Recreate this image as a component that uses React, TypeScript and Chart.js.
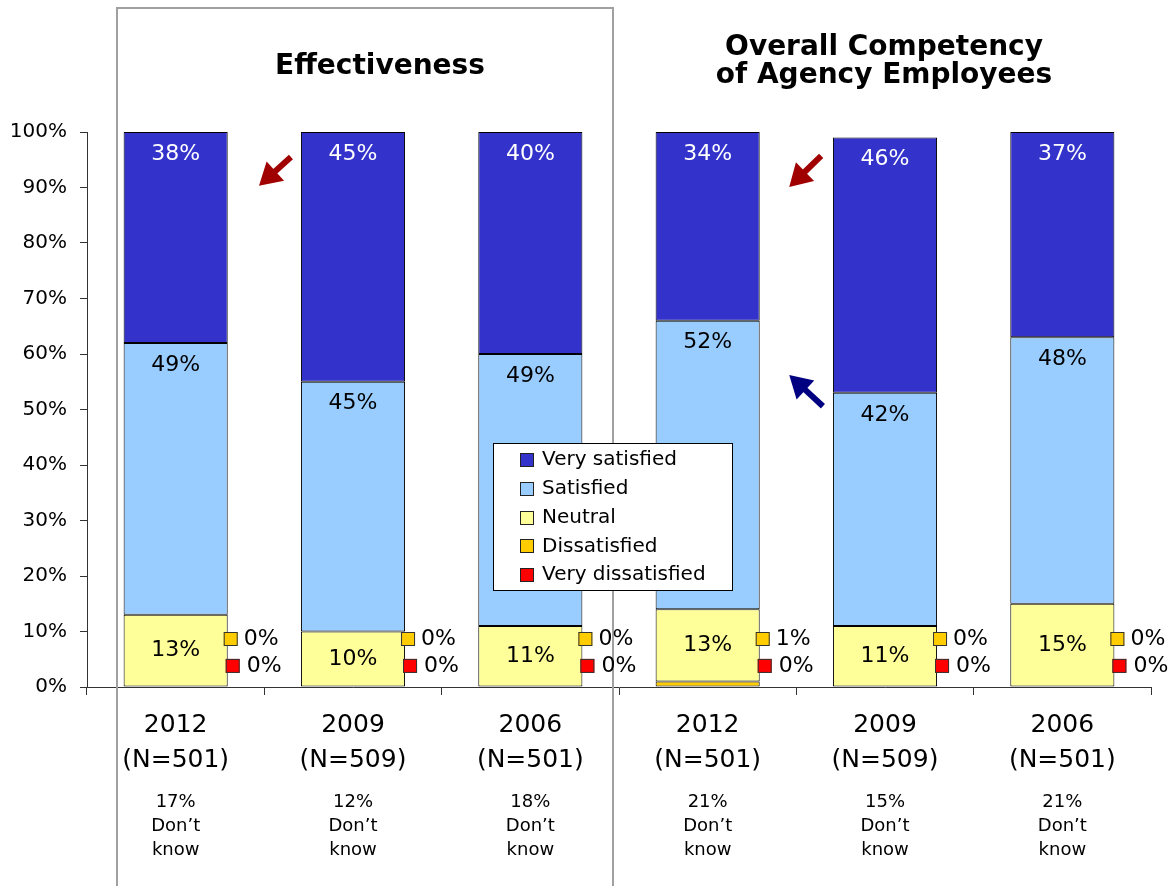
import React, { useEffect, useRef } from 'react';
import { Chart, registerables } from 'chart.js';

Chart.register(...registerables);

// ---- Data ----
const years = ['2012', '2009', '2006', '2012', '2009', '2006'];
const sampleSizes = ['(N=501)', '(N=509)', '(N=501)', '(N=501)', '(N=509)', '(N=501)'];
const dontKnow = ['17%', '12%', '18%', '21%', '15%', '21%'];

const veryDissatisfied = [0, 0, 0, 0, 0, 0];
const dissatisfied = [0, 0, 0, 1, 0, 0];
const neutral = [13, 10, 11, 13, 11, 15];
const satisfied = [49, 45, 49, 52, 42, 48];
const verySatisfied = [38, 45, 40, 34, 46, 37];

const seriesNames = ['Very dissatisfied', 'Dissatisfied', 'Neutral', 'Satisfied', 'Very satisfied'];
const seriesColors = ['#FF0000', '#FFCC00', '#FFFF99', '#99CCFF', '#3333CC'];

const panelTitleLeft = ['Effectiveness'];
const panelTitleRight = ['Overall Competency', 'of Agency Employees'];

// annotation arrows in (category index, percent) coordinates: tail -> tip
const arrowSpecs = [
  { from: [0.65, 95.5], to: [0.47, 90.3], color: '#A00000' },
  { from: [3.64, 95.7], to: [3.46, 90.1], color: '#A00000' },
  { from: [3.65, 50.6], to: [3.46, 56.2], color: '#000080' },
];

const FONT = '"DejaVu Sans", Verdana, sans-serif';

function drawArrow(ctx: CanvasRenderingContext2D, x1: number, y1: number, x2: number, y2: number, color: string) {
  const ang = Math.atan2(y2 - y1, x2 - x1);
  const headLen = 22;
  const headW = 13;
  const bx = x2 - headLen * Math.cos(ang);
  const by = y2 - headLen * Math.sin(ang);
  ctx.save();
  ctx.strokeStyle = color;
  ctx.fillStyle = color;
  ctx.lineWidth = 6;
  ctx.lineCap = 'butt';
  ctx.beginPath();
  ctx.moveTo(x1, y1);
  ctx.lineTo(bx + 2 * Math.cos(ang), by + 2 * Math.sin(ang));
  ctx.stroke();
  const px = -Math.sin(ang);
  const py = Math.cos(ang);
  ctx.beginPath();
  ctx.moveTo(x2, y2);
  ctx.lineTo(bx + px * headW, by + py * headW);
  ctx.lineTo(bx - px * headW, by - py * headW);
  ctx.closePath();
  ctx.fill();
  ctx.restore();
}

const decorPlugin = {
  id: 'decor',
  beforeDatasetsDraw(chart: any) {
    const ctx = chart.ctx as CanvasRenderingContext2D;
    // panel frame
    ctx.save();
    ctx.strokeStyle = '#A0A0A0';
    ctx.lineWidth = 2;
    ctx.strokeRect(117, 8, 496, 900);
    ctx.restore();
    // titles
    ctx.save();
    ctx.fillStyle = '#000';
    ctx.font = `bold 28px ${FONT}`;
    ctx.textAlign = 'center';
    ctx.textBaseline = 'alphabetic';
    ctx.fillText(panelTitleLeft[0], 380, 74);
    ctx.fillText(panelTitleRight[0], 884, 55);
    ctx.fillText(panelTitleRight[1], 884, 83);
    ctx.restore();
  },
  afterDatasetsDraw(chart: any) {
    const ctx = chart.ctx as CanvasRenderingContext2D;
    const ys = chart.scales.y;
    ctx.save();
    ctx.font = `22px ${FONT}`;
    ctx.textAlign = 'center';
    ctx.textBaseline = 'middle';
    // very satisfied (4), satisfied (3): near top; neutral (2): centred
    [2, 3, 4].forEach((di) => {
      const meta = chart.getDatasetMeta(di);
      const data = chart.data.datasets[di].data as number[];
      meta.data.forEach((el: any, i: number) => {
        if (!data[i]) return;
        const y = di === 2 ? (el.y + el.base) / 2 : el.y + 22;
        ctx.fillStyle = di === 4 ? '#FFFFFF' : '#000000';
        ctx.fillText(`${data[i]}%`, el.x, y);
      });
    });
    // small keyed labels for dissatisfied / very dissatisfied
    const nMeta = chart.getDatasetMeta(2);
    const keyed = [
      { di: 1, level: 8.65, dx: -4, tx: 16 },
      { di: 0, level: 3.8, dx: -2, tx: 19 },
    ];
    ctx.textAlign = 'left';
    keyed.forEach((k) => {
      const data = chart.data.datasets[k.di].data as number[];
      nMeta.data.forEach((el: any, i: number) => {
        const right = el.x + el.width / 2;
        const y = ys.getPixelForValue(k.level);
        ctx.fillStyle = seriesColors[k.di];
        ctx.fillRect(right + k.dx, y - 7, 14, 14);
        ctx.strokeStyle = '#333';
        ctx.lineWidth = 1;
        ctx.strokeRect(right + k.dx + 0.5, y - 6.5, 13, 13);
        ctx.fillStyle = '#000';
        ctx.fillText(`${data[i]}%`, right + k.tx, y);
      });
    });
    ctx.restore();
  },
  afterDraw(chart: any) {
    const ctx = chart.ctx as CanvasRenderingContext2D;
    const xs = chart.scales.x;
    const ys = chart.scales.y;
    const step = xs.getPixelForValue(1) - xs.getPixelForValue(0);
    const px = (v: number) => xs.getPixelForValue(0) + v * step;
    arrowSpecs.forEach((a) => {
      drawArrow(ctx, px(a.from[0]), ys.getPixelForValue(a.from[1]), px(a.to[0]), ys.getPixelForValue(a.to[1]), a.color);
    });
    // legend
    ctx.save();
    ctx.fillStyle = '#FFFFFF';
    ctx.fillRect(494, 444, 238, 146);
    ctx.strokeStyle = '#000';
    ctx.lineWidth = 1;
    ctx.strokeRect(493.5, 443.5, 239, 147);
    ctx.font = `20px ${FONT}`;
    ctx.textAlign = 'left';
    ctx.textBaseline = 'middle';
    for (let k = 0; k < 5; k++) {
      const di = 4 - k;
      const y = 460 + k * 28.8;
      ctx.fillStyle = seriesColors[di];
      ctx.fillRect(520, Math.round(y) - 7, 14, 14);
      ctx.strokeStyle = '#222';
      ctx.strokeRect(520.5, Math.round(y) - 6.5, 13, 13);
      ctx.fillStyle = '#000';
      ctx.fillText(seriesNames[di], 542, y);
    }
    ctx.restore();
  },
};

export default function App() {
  const canvasRef = useRef<HTMLCanvasElement>(null);

  useEffect(() => {
    if (!canvasRef.current) return;
    const series = [veryDissatisfied, dissatisfied, neutral, satisfied, verySatisfied];
    const chart = new Chart(canvasRef.current, {
      type: 'bar',
      data: {
        labels: years.map((y, i) => [y, sampleSizes[i]]),
        datasets: series.map((d, i) => ({
          label: seriesNames[i],
          data: d,
          backgroundColor: seriesColors[i],
          borderColor: '#000000',
          borderWidth: (c: any) => (c.raw > 0 ? 1 : 0),
          borderSkipped: false,
          categoryPercentage: 1,
          barPercentage: 0.587,
        })),
      },
      options: {
        responsive: false,
        animation: false,
        devicePixelRatio: 1,
        events: [],
        layout: { padding: { top: 132, right: 23, left: 0, bottom: 0 } },
        plugins: {
          legend: { display: false },
          tooltip: { enabled: false },
          title: { display: false },
        },
        scales: {
          x: {
            type: 'category',
            stacked: true,
            weight: 1,
            offset: true,
            grid: { display: true, drawOnChartArea: false, offset: true, tickLength: 8, color: '#333' },
            border: { display: true, color: '#333', width: 1 },
            ticks: {
              autoSkip: false,
              maxRotation: 0,
              padding: 12.5,
              color: '#000',
              font: { family: FONT, size: 25, lineHeight: '35px' },
            },
            afterFit: (s: any) => {
              s.height = 91;
            },
          },
          x2: {
            type: 'category',
            position: 'bottom',
            weight: 2,
            offset: true,
            labels: dontKnow.map((d) => [d, 'Don\u2019t', 'know']),
            grid: { display: false, drawTicks: false },
            border: { display: false },
            ticks: {
              autoSkip: false,
              maxRotation: 0,
              padding: 12,
              color: '#000',
              font: { family: FONT, size: 18, lineHeight: '24px' },
            },
            afterFit: (s: any) => {
              s.height = 108;
            },
          },
          y: {
            stacked: true,
            min: 0,
            max: 100,
            grid: { display: true, drawOnChartArea: false, tickLength: 7, color: '#333' },
            border: { display: true, color: '#333', width: 1 },
            ticks: {
              stepSize: 10,
              padding: 13,
              color: '#000',
              font: { family: FONT, size: 20 },
              callback: (v: any) => `${v}%`,
            },
            afterFit: (s: any) => {
              s.width = 87;
            },
          },
        },
      },
      plugins: [decorPlugin],
    });
    return () => chart.destroy();
  }, []);

  return (
    <div style={{ position: 'absolute', left: 0, top: 0, width: 1174, height: 886, background: '#fff' }}>
      <canvas ref={canvasRef} width={1174} height={886} style={{ display: 'block' }} />
    </div>
  );
}
